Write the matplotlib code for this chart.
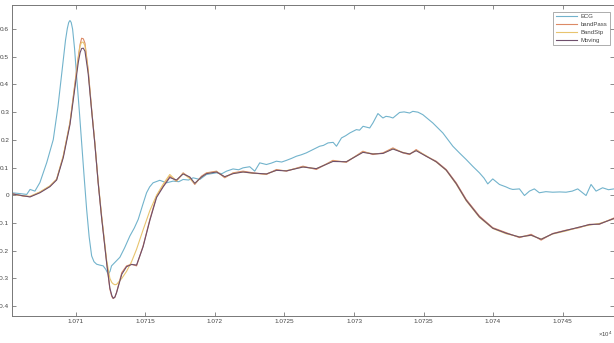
import matplotlib
matplotlib.use("Agg")
import matplotlib.pyplot as plt
from matplotlib.ticker import FuncFormatter

# ---------------- data (x in samples, shown as x10^4) ----------------
ecg_x = [10705.4, 10705.98, 10706.46, 10706.70, 10707.05, 10707.41, 10707.90, 10708.37,
         10708.71, 10709.09, 10709.25, 10709.38, 10709.48, 10709.57, 10709.66, 10709.76,
         10709.90, 10710.05, 10710.25, 10710.41, 10710.60, 10710.77, 10710.95,
         10711.13, 10711.30, 10711.49, 10711.70, 10711.96, 10712.15, 10712.32, 10712.45,
         10712.56, 10712.85, 10713.16, 10713.50, 10713.88, 10714.20, 10714.48, 10714.80,
         10715.08, 10715.30, 10715.55, 10716.03, 10716.52, 10716.99, 10717.40, 10717.71,
         10718.10, 10718.43, 10718.91,
         10719.39, 10720.11, 10720.50, 10720.83, 10721.30, 10721.70, 10722.02, 10722.50,
         10722.86, 10723.22, 10723.70, 10724.05, 10724.42, 10724.80, 10725.14, 10725.50,
         10725.86, 10726.20, 10726.57, 10727.05, 10727.53, 10727.80, 10728.13,
         10728.50, 10728.74, 10729.10, 10729.40, 10729.70, 10730.17, 10730.40, 10730.65,
         10731.13, 10731.36, 10731.72, 10732.08, 10732.30, 10732.56, 10732.80, 10733.28,
         10733.60, 10734.00, 10734.23, 10734.60, 10734.95,
         10735.67, 10736.39, 10737.11, 10737.60, 10738.07, 10738.55, 10739.02, 10739.35,
         10739.62, 10739.98, 10740.46, 10740.94, 10741.20, 10741.42, 10741.90, 10742.26,
         10742.62, 10742.97, 10743.33, 10743.80, 10744.29, 10744.80, 10745.25, 10745.70,
         10746.09, 10746.69, 10747.05, 10747.41, 10747.88, 10748.30, 10748.70]
ecg_y = [0.009, 0.006, 0.003, 0.021, 0.015, 0.046, 0.118, 0.201,
         0.321, 0.489, 0.560, 0.602, 0.624, 0.631, 0.624, 0.600,
         0.530, 0.429, 0.300, 0.190, 0.060, -0.051, -0.150,
         -0.219, -0.240, -0.249, -0.252, -0.255, -0.268, -0.285, -0.275,
         -0.255, -0.240, -0.224, -0.190, -0.147, -0.118, -0.087, -0.035,
         0.009, 0.030, 0.045, 0.054, 0.045, 0.051, 0.049, 0.057,
         0.055, 0.063, 0.057,
         0.075, 0.081, 0.078, 0.087, 0.095, 0.092, 0.099, 0.103,
         0.087, 0.117, 0.111, 0.116, 0.123, 0.120, 0.126, 0.133,
         0.141, 0.146, 0.153, 0.165, 0.177, 0.180, 0.189,
         0.191, 0.177, 0.207, 0.215, 0.225, 0.237, 0.235, 0.249,
         0.243, 0.261, 0.295, 0.279, 0.285, 0.283, 0.279, 0.299,
         0.301, 0.297, 0.303, 0.300, 0.291,
         0.261, 0.225, 0.177, 0.152, 0.129, 0.104, 0.081, 0.062,
         0.041, 0.059, 0.039, 0.030, 0.024, 0.021, 0.023, -0.001,
         0.015, 0.023, 0.009, 0.013, 0.011, 0.012, 0.011, 0.015,
         0.023, -0.001, 0.039, 0.015, 0.027, 0.020, 0.023]

filt_x = [10705.4, 10706.21, 10706.70, 10707.41, 10708.13, 10708.61, 10709.09, 10709.57,
          10709.93, 10710.17, 10710.30, 10710.41, 10710.53, 10710.65, 10710.88, 10711.13,
          10711.36, 10711.60, 10711.84, 10712.21, 10712.44, 10712.58, 10712.68, 10712.80,
          10712.92, 10713.30, 10713.64, 10714.00, 10714.36, 10714.83, 10715.32, 10715.80,
          10716.27, 10716.75, 10717.23, 10717.71, 10718.19, 10718.55, 10719.03, 10719.39,
          10720.11, 10720.70, 10721.30, 10722.02, 10722.74, 10723.70, 10724.42, 10725.14,
          10726.33, 10727.29, 10728.48, 10729.45, 10730.64, 10731.36, 10732.08, 10732.80,
          10733.51, 10734.00, 10734.47, 10735.19, 10735.91, 10736.63, 10737.35, 10738.07,
          10739.02, 10739.98, 10740.94, 10741.90, 10742.74, 10743.46, 10744.29, 10745.25,
          10746.21, 10746.93, 10747.64, 10748.70]
bandpass_y = [0.006, -0.003, -0.005, 0.011, 0.033, 0.057, 0.141, 0.261,
              0.405, 0.501, 0.545, 0.567, 0.565, 0.549, 0.453, 0.309,
              0.189, 0.045, -0.075, -0.243, -0.339, -0.366, -0.373, -0.368,
              -0.351, -0.279, -0.255, -0.249, -0.255, -0.183, -0.087, -0.003,
              0.033, 0.069, 0.051, 0.081, 0.063, 0.039, 0.069, 0.081,
              0.087, 0.063, 0.081, 0.087, 0.081, 0.075, 0.093, 0.087,
              0.105, 0.093, 0.126, 0.119, 0.159, 0.147, 0.153, 0.171,
              0.153, 0.147, 0.165, 0.141, 0.123, 0.093, 0.045, -0.015,
              -0.075, -0.117, -0.135, -0.153, -0.141, -0.162, -0.138, -0.126,
              -0.117, -0.105, -0.105, -0.082]
bandstop_y = [0.004, -0.002, -0.004, 0.012, 0.034, 0.058, 0.143, 0.262,
              0.400, 0.495, 0.540, 0.553, 0.552, 0.540, 0.450, 0.310,
              0.190, 0.050, -0.070, -0.235, -0.300, -0.315, -0.320, -0.323,
              -0.322, -0.300, -0.275, -0.240, -0.195, -0.125, -0.055, 0.000,
              0.040, 0.075, 0.052, 0.079, 0.060, 0.042, 0.066, 0.079,
              0.085, 0.066, 0.079, 0.084, 0.079, 0.077, 0.090, 0.089,
              0.102, 0.096, 0.123, 0.121, 0.156, 0.150, 0.151, 0.168,
              0.155, 0.149, 0.162, 0.143, 0.120, 0.090, 0.040, -0.020,
              -0.080, -0.120, -0.139, -0.150, -0.145, -0.158, -0.140, -0.129,
              -0.115, -0.108, -0.102, -0.085]
moving_y = [0.005, -0.002, -0.006, 0.009, 0.031, 0.055, 0.136, 0.255,
            0.390, 0.480, 0.515, 0.530, 0.531, 0.520, 0.440, 0.305,
            0.185, 0.045, -0.078, -0.245, -0.335, -0.362, -0.372, -0.368,
            -0.352, -0.285, -0.258, -0.250, -0.252, -0.186, -0.090, -0.008,
            0.030, 0.064, 0.055, 0.077, 0.066, 0.043, 0.066, 0.078,
            0.084, 0.067, 0.078, 0.084, 0.080, 0.077, 0.090, 0.088,
            0.102, 0.096, 0.122, 0.121, 0.155, 0.149, 0.151, 0.167,
            0.154, 0.149, 0.161, 0.141, 0.121, 0.091, 0.042, -0.018,
            -0.078, -0.119, -0.137, -0.151, -0.144, -0.159, -0.139, -0.127,
            -0.115, -0.106, -0.104, -0.084]

labels = ["ECG", "bandPass", "BandStp", "Moving"]
colors = ["#72b3cc", "#dc8a66", "#e8c46e", "#6e4f6c"]
x_ticks = [10710, 10715, 10720, 10725, 10730, 10735, 10740, 10745]
y_ticks = [-0.4, -0.3, -0.2, -0.1, 0, 0.1, 0.2, 0.3, 0.4, 0.5, 0.6]

# ---------------- figure ----------------
plt.rcParams['font.family'] = ['Liberation Sans', 'DejaVu Sans']
fig = plt.figure(figsize=(6.14, 3.43), dpi=100)
ax = fig.add_axes([11.7 / 614, 27 / 343, (614 - 11.7) / 614, (316 - 5) / 343])

ax.plot(ecg_x, ecg_y, color=colors[0], lw=0.8, label=labels[0])
ax.plot(filt_x, bandpass_y, color=colors[1], lw=0.8, label=labels[1])
ax.plot(filt_x, bandstop_y, color=colors[2], lw=0.8, label=labels[2])
ax.plot(filt_x, moving_y, color=colors[3], lw=0.8, label=labels[3])

ax.set_xlim(10705.38, 10748.7)
ax.set_ylim(-0.436, 0.687)
ax.set_xticks(x_ticks)
ax.set_yticks(y_ticks)
ax.xaxis.set_major_formatter(FuncFormatter(lambda v, p: "%g" % (v / 1e4)))
ax.yaxis.set_major_formatter(FuncFormatter(lambda v, p: "%g" % round(v, 2)))

for s in ax.spines.values():
    s.set_color("#777777")
    s.set_linewidth(0.7)
ax.tick_params(direction="in", length=3.2, width=0.6, colors="#777777",
               labelcolor="#444444", labelsize=4.6, top=True, right=True, pad=2.5)
ax.tick_params(axis="y", pad=1.8)

leg = ax.legend(loc="upper right", bbox_to_anchor=(0.993, 0.978), fontsize=4.3,
                frameon=True, fancybox=False, edgecolor="#888888", borderaxespad=0,
                handlelength=3.6, handletextpad=0.6, labelspacing=0.45,
                borderpad=0.4)
leg.get_frame().set_linewidth(0.6)
for t in leg.get_texts():
    t.set_color("#444444")

fig.text(598 / 614, 1 - 334 / 343, "×10$^4$", fontsize=4.3, color="#444444",
         va="center", ha="left")

fig.savefig("out.png", dpi=100)
